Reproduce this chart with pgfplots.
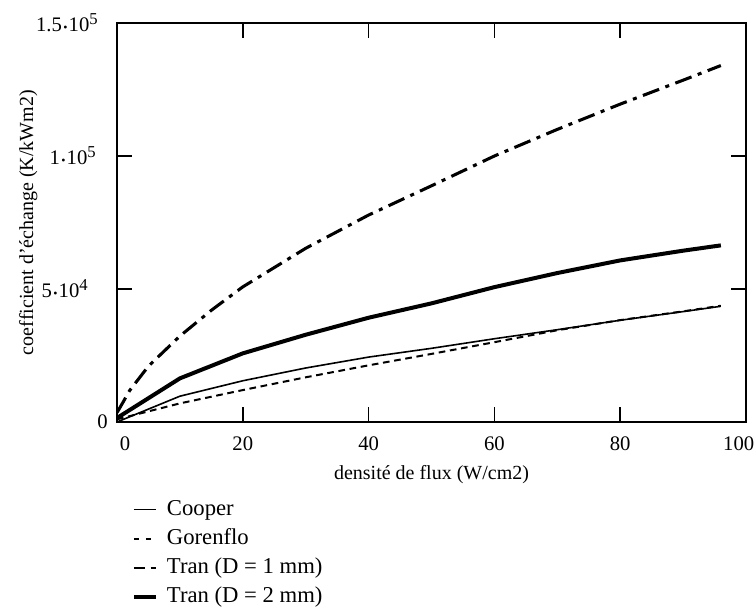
\documentclass[border=0pt]{standalone}
\usepackage{pgfplots}
\pgfplotsset{compat=1.18}
\usepackage{fontspec}
\setmainfont{Liberation Serif}
\newcommand{\dt}{\kern1.2pt{\fontsize{9}{9}\selectfont •}\kern0.8pt}
\newcommand{\ex}[1]{\raisebox{0.75ex}{\fontsize{12.5}{12.5}\selectfont #1}}
\begin{document}
\begin{tikzpicture}
\path[use as bounding box] (-87.75pt,-140.25pt) rectangle (479.25pt,316.5pt);
\begin{axis}[
  at={(0pt,0pt)}, anchor=south west,
  scale only axis, width=471.75pt, height=299.25pt,
  xmin=0, xmax=100, ymin=0, ymax=150000,
  axis line style={line width=1.6pt},
  tick style={line width=1.1pt, black},
  major tick length=11pt,
  xtick={0,20,40,60,80,100},
  xticklabels={\hspace*{12pt}0,20,40,60,80,100\kern11pt},
  xticklabel style={anchor=base, yshift=-21.5pt, font=\fontsize{15.5}{17}\selectfont},
  ytick={0,50000,100000,150000},
  yticklabels={0,{5\dt10\ex{4}\kern15pt},{1\dt10\ex{5}\kern9pt},{1.5\dt10\ex{5}\kern7.5pt}},
  yticklabel style={anchor=east, inner sep=0pt, xshift=-6.75pt, font=\fontsize{15.5}{17}\selectfont},
  scaled y ticks=false,
  xlabel={densité de flux (W/cm2)},
  xlabel style={at={(axis description cs:0.5,-0.1429)}, anchor=base, font=\fontsize{15}{17}\selectfont},
  ylabel={coefficient d'échange (K/kWm2)},
  ylabel style={at={(axis description cs:-0.1335,0.5)}, rotate=0, anchor=base, font=\fontsize{15}{17}\selectfont},
  legend style={draw=none, fill=none, inner sep=0pt, outer sep=0pt,
    at={(axis description cs:0.0238,-0.193)}, anchor=north west,
    font=\fontsize{17}{20}\selectfont, row sep=5.75pt, column sep=6.75pt,
    nodes={inner sep=0pt, text height=12pt, text depth=4pt}},
  legend cell align=left,
  legend image code/.code={\draw[#1] (0pt,0pt) -- (16.5pt,0pt);},
]
% Cooper
\addplot[black, line width=1.2pt, sharp plot] coordinates {
 (0,0) (10,9700) (20,15500) (30,20300) (40,24400) (50,27700) (60,31300) (70,34700) (80,38250) (90,41500) (96,43500)};
\addlegendentry{Cooper}
% Gorenflo
\addplot[black, line width=1.5pt, dash pattern=on 5pt off 3.5pt, sharp plot,
  legend image post style={dash pattern=on 4pt off 5pt on 4pt off 5pt}] coordinates {
 (0,1000) (10,7000) (20,12000) (30,16800) (40,21300) (50,25600) (60,30000) (70,34500) (80,38300) (90,41600) (96,43700)};
\addlegendentry{Gorenflo}
% Tran D = 1 mm
\addplot[black, line width=2.3pt, dash pattern=on 13pt off 5pt on 3pt off 5pt, sharp plot,
  legend image post style={line width=1.6pt, dash pattern=on 8pt off 4.5pt on 4pt off 10pt}] coordinates {
 (0,3500) (1,7600) (2,11800) (5,21000) (10,32300) (15,42000) (20,50800) (30,65300) (40,77800) (50,88800) (60,100000) (70,110000) (80,119500) (90,128500) (96,134000)};
\addlegendentry{Tran (D = 1 mm)}
% Tran D = 2 mm
\addplot[black, line width=3pt, sharp plot] coordinates {
 (0,1500) (10,16400) (20,25800) (30,32800) (40,39200) (50,44600) (60,50700) (70,56000) (80,60750) (90,64400) (96,66400)};
\addlegendentry{Tran (D = 2 mm)}
\end{axis}
\end{tikzpicture}
\end{document}
